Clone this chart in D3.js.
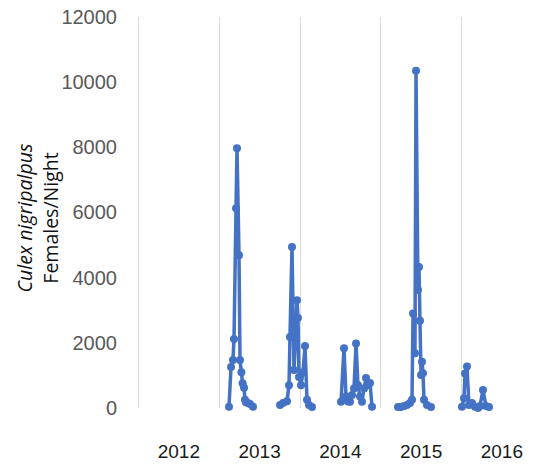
<!DOCTYPE html>
<html lang="en">
<head>
  <meta charset="UTF-8">
  <title>Culex nigripalpus Females/Night</title>
  <script src="https://d3js.org/d3.v7.min.js"></script>
  <style>
    body {
      margin: 0;
      background: #fff;
      font-family: "Open Sans", sans-serif;
    }
    .ytick text {
      fill: #595959;
      font-size: 20px;
    }
    .xtick text {
      fill: #1a1a1a;
      font-size: 19px;
    }
    .grid {
      stroke: #d9d9d9;
      stroke-width: 1;
    }
  </style>
</head>
<body>

  <svg id="chart" width="538" height="468"></svg>

  <script>
    // sampling dates as decimal years, null marks a gap between seasons
    const surveyDates = [
      2013.127, 2013.152, 2013.176, 2013.189, 2013.214, 2013.226, 2013.251, 2013.263,
      2013.280, 2013.295, 2013.313, 2013.325, 2013.337, 2013.362, 2013.387, 2013.424,
      null,
      2013.759, 2013.796, 2013.845, 2013.870, 2013.882, 2013.907, 2013.932, 2013.957,
      2013.969, 2013.981, 2013.994, 2014.019, 2014.043, 2014.068, 2014.093, 2014.118, 2014.155,
      null,
      2014.514, 2014.551, 2014.576, 2014.601, 2014.625, 2014.650, 2014.675, 2014.700,
      2014.724, 2014.749, 2014.774, 2014.799, 2014.824, 2014.848, 2014.873, 2014.898,
      null,
      2015.220, 2015.257, 2015.294, 2015.331, 2015.368, 2015.393, 2015.406, 2015.430,
      2015.443, 2015.467, 2015.480, 2015.492, 2015.505, 2015.517, 2015.529, 2015.542,
      2015.579, 2015.628,
      null,
      2016.012, 2016.037, 2016.050, 2016.074, 2016.099, 2016.136, 2016.173, 2016.211,
      2016.235, 2016.272, 2016.310, 2016.347
    ];
    const femalesPerNight = [
      40, 1260, 1470, 2120, 6130, 7970, 4690, 1470,
      1100, 760, 620, 250, 180, 150, 120, 40,
      null,
      90, 150, 210, 700, 2180, 4940, 1170, 2390,
      3310, 2760, 950, 700, 1100, 1900, 250, 90, 30,
      null,
      190, 1830, 350, 200, 190, 400, 600, 1980,
      700, 350, 190, 600, 920, 700, 770, 40,
      null,
      30, 30, 60, 90, 150, 250, 2900, 1680,
      10350, 3620, 4330, 2680, 1010, 1420, 1070, 250,
      90, 30,
      null,
      40, 300, 1060, 1270, 90, 150, 40, 0,
      60, 550, 60, 30
    ];
    const yearBounds = [2012, 2013, 2014, 2015, 2016];
    const yearLabels = ["2012", "2013", "2014", "2015", "2016"];
    const yTicks = [0, 2000, 4000, 6000, 8000, 10000, 12000];

    const svg = d3.select("#chart");
    const lineColor = "#4472c4";

    const x = d3.scaleLinear().domain([2012, 2017]).range([138, 541.75]);
    const y = d3.scaleLinear().domain([0, 12000]).range([408, 17]);

    const points = surveyDates.map((d, i) => ({ t: d, v: femalesPerNight[i] }));

    // vertical year gridlines
    svg.selectAll("line.grid")
      .data(yearBounds)
      .enter().append("line")
      .attr("class", "grid")
      .attr("x1", d => Math.round(x(d)) + 0.5)
      .attr("x2", d => Math.round(x(d)) + 0.5)
      .attr("y1", y(12000))
      .attr("y2", y(0));

    // y axis labels
    const yAxis = svg.append("g")
      .attr("class", "ytick")
      .attr("transform", `translate(${x(2012)},0)`)
      .call(d3.axisLeft(y).tickValues(yTicks).tickSize(0).tickPadding(21).tickFormat(d3.format("d")));
    yAxis.select(".domain").remove();
    yAxis.selectAll("text").attr("font-family", null).attr("font-size", null);

    // year labels centred in each year
    const xAxis = svg.append("g")
      .attr("class", "xtick")
      .attr("transform", "translate(0,444)")
      .call(d3.axisBottom(x)
        .tickValues(yearBounds.map(d => d + 0.5))
        .tickSize(0)
        .tickPadding(0)
        .tickFormat((d, i) => yearLabels[i]));
    xAxis.select(".domain").remove();
    xAxis.selectAll("text").attr("font-family", null).attr("font-size", null).attr("dy", "0.71em");

    // axis title
    const title = svg.append("text")
      .attr("transform", "translate(25,218) rotate(-90)")
      .attr("text-anchor", "middle")
      .attr("fill", "#111")
      .style("font-size", "19.5px");
    title.append("tspan")
      .attr("x", 0)
      .attr("dy", "0.35em")
      .style("font-style", "italic")
      .text("Culex nigripalpus");
    title.append("tspan")
      .attr("x", 0)
      .attr("dy", "1.35em")
      .text("Females/Night");

    // series
    const line = d3.line()
      .defined(d => d.t != null && d.v != null)
      .x(d => x(d.t))
      .y(d => y(d.v));

    svg.append("path")
      .datum(points)
      .attr("fill", "none")
      .attr("stroke", lineColor)
      .attr("stroke-width", 3.5)
      .attr("stroke-linejoin", "round")
      .attr("d", line);

    svg.selectAll("circle.pt")
      .data(points.filter(d => d.t != null))
      .enter().append("circle")
      .attr("class", "pt")
      .attr("cx", d => x(d.t))
      .attr("cy", d => y(d.v))
      .attr("r", 4)
      .attr("fill", lineColor);
  </script>
</body>
</html>
